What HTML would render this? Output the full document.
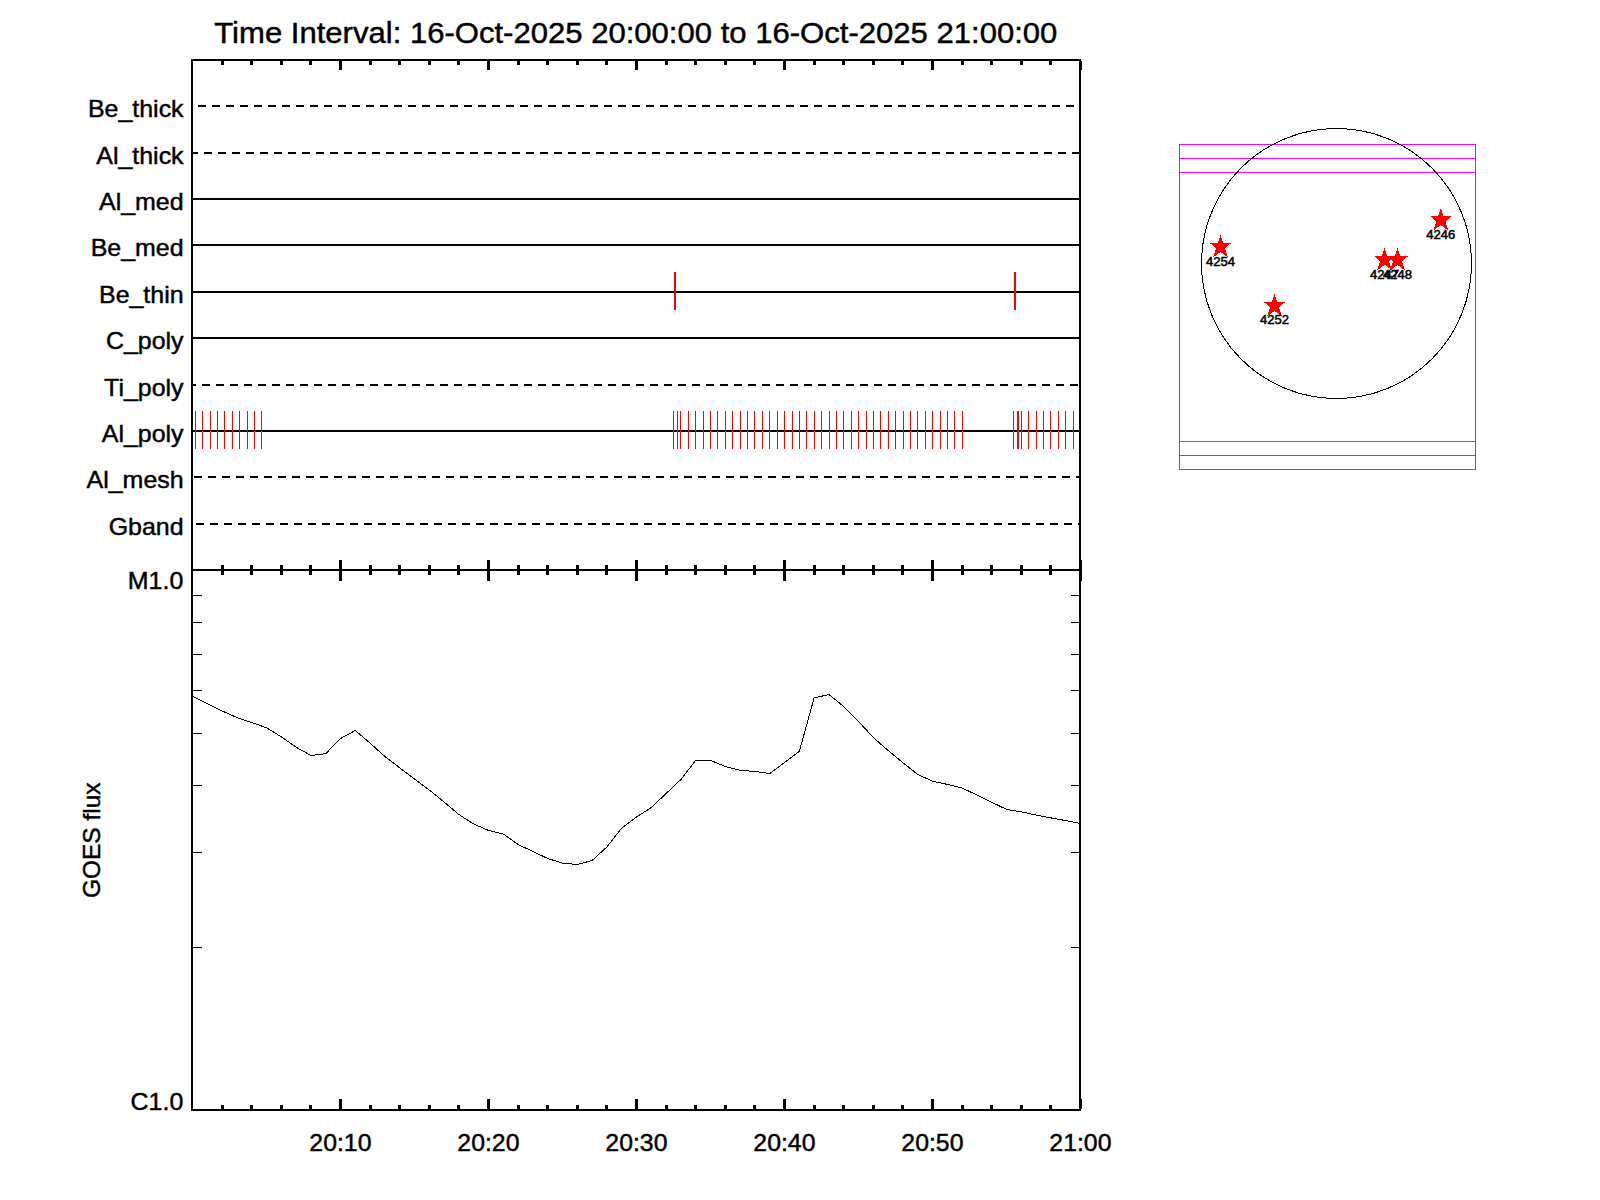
<!DOCTYPE html>
<html lang="en"><head><meta charset="utf-8"><title>Time Interval: 16-Oct-2025 20:00:00 to 16-Oct-2025 21:00:00</title>
<style>html,body{margin:0;padding:0;background:#fff;width:1600px;height:1200px;overflow:hidden}svg{display:block;position:absolute;left:0;top:0}text{font-family:"Liberation Sans",sans-serif;fill:#000}</style></head><body>
<svg width="1600" height="1200" viewBox="0 0 1600 1200">
<rect x="0" y="0" width="1600" height="1200" fill="#fff"/>
<g shape-rendering="crispEdges">
<rect x="198" y="105" width="8" height="2" fill="#000"/>
<rect x="212" y="105" width="8" height="2" fill="#000"/>
<rect x="226" y="105" width="8" height="2" fill="#000"/>
<rect x="240" y="105" width="8" height="2" fill="#000"/>
<rect x="254" y="105" width="8" height="2" fill="#000"/>
<rect x="268" y="105" width="8" height="2" fill="#000"/>
<rect x="282" y="105" width="8" height="2" fill="#000"/>
<rect x="296" y="105" width="8" height="2" fill="#000"/>
<rect x="310" y="105" width="8" height="2" fill="#000"/>
<rect x="324" y="105" width="8" height="2" fill="#000"/>
<rect x="338" y="105" width="8" height="2" fill="#000"/>
<rect x="352" y="105" width="8" height="2" fill="#000"/>
<rect x="366" y="105" width="8" height="2" fill="#000"/>
<rect x="380" y="105" width="8" height="2" fill="#000"/>
<rect x="394" y="105" width="8" height="2" fill="#000"/>
<rect x="408" y="105" width="8" height="2" fill="#000"/>
<rect x="422" y="105" width="8" height="2" fill="#000"/>
<rect x="436" y="105" width="8" height="2" fill="#000"/>
<rect x="450" y="105" width="8" height="2" fill="#000"/>
<rect x="464" y="105" width="8" height="2" fill="#000"/>
<rect x="478" y="105" width="8" height="2" fill="#000"/>
<rect x="492" y="105" width="8" height="2" fill="#000"/>
<rect x="506" y="105" width="8" height="2" fill="#000"/>
<rect x="520" y="105" width="8" height="2" fill="#000"/>
<rect x="534" y="105" width="8" height="2" fill="#000"/>
<rect x="548" y="105" width="8" height="2" fill="#000"/>
<rect x="562" y="105" width="8" height="2" fill="#000"/>
<rect x="576" y="105" width="8" height="2" fill="#000"/>
<rect x="590" y="105" width="8" height="2" fill="#000"/>
<rect x="604" y="105" width="8" height="2" fill="#000"/>
<rect x="618" y="105" width="8" height="2" fill="#000"/>
<rect x="632" y="105" width="8" height="2" fill="#000"/>
<rect x="646" y="105" width="8" height="2" fill="#000"/>
<rect x="660" y="105" width="8" height="2" fill="#000"/>
<rect x="674" y="105" width="8" height="2" fill="#000"/>
<rect x="688" y="105" width="8" height="2" fill="#000"/>
<rect x="702" y="105" width="8" height="2" fill="#000"/>
<rect x="716" y="105" width="8" height="2" fill="#000"/>
<rect x="730" y="105" width="8" height="2" fill="#000"/>
<rect x="744" y="105" width="8" height="2" fill="#000"/>
<rect x="758" y="105" width="8" height="2" fill="#000"/>
<rect x="772" y="105" width="8" height="2" fill="#000"/>
<rect x="786" y="105" width="8" height="2" fill="#000"/>
<rect x="800" y="105" width="8" height="2" fill="#000"/>
<rect x="814" y="105" width="8" height="2" fill="#000"/>
<rect x="828" y="105" width="8" height="2" fill="#000"/>
<rect x="842" y="105" width="8" height="2" fill="#000"/>
<rect x="856" y="105" width="8" height="2" fill="#000"/>
<rect x="870" y="105" width="8" height="2" fill="#000"/>
<rect x="884" y="105" width="8" height="2" fill="#000"/>
<rect x="898" y="105" width="8" height="2" fill="#000"/>
<rect x="912" y="105" width="8" height="2" fill="#000"/>
<rect x="926" y="105" width="8" height="2" fill="#000"/>
<rect x="940" y="105" width="8" height="2" fill="#000"/>
<rect x="954" y="105" width="8" height="2" fill="#000"/>
<rect x="968" y="105" width="8" height="2" fill="#000"/>
<rect x="982" y="105" width="8" height="2" fill="#000"/>
<rect x="996" y="105" width="8" height="2" fill="#000"/>
<rect x="1010" y="105" width="8" height="2" fill="#000"/>
<rect x="1024" y="105" width="8" height="2" fill="#000"/>
<rect x="1038" y="105" width="8" height="2" fill="#000"/>
<rect x="1052" y="105" width="8" height="2" fill="#000"/>
<rect x="1066" y="105" width="8" height="2" fill="#000"/>
<rect x="193" y="152" width="5" height="2" fill="#000"/>
<rect x="204" y="152" width="8" height="2" fill="#000"/>
<rect x="218" y="152" width="8" height="2" fill="#000"/>
<rect x="232" y="152" width="8" height="2" fill="#000"/>
<rect x="246" y="152" width="8" height="2" fill="#000"/>
<rect x="260" y="152" width="8" height="2" fill="#000"/>
<rect x="274" y="152" width="8" height="2" fill="#000"/>
<rect x="288" y="152" width="8" height="2" fill="#000"/>
<rect x="302" y="152" width="8" height="2" fill="#000"/>
<rect x="316" y="152" width="8" height="2" fill="#000"/>
<rect x="330" y="152" width="8" height="2" fill="#000"/>
<rect x="344" y="152" width="8" height="2" fill="#000"/>
<rect x="358" y="152" width="8" height="2" fill="#000"/>
<rect x="372" y="152" width="8" height="2" fill="#000"/>
<rect x="386" y="152" width="8" height="2" fill="#000"/>
<rect x="400" y="152" width="8" height="2" fill="#000"/>
<rect x="414" y="152" width="8" height="2" fill="#000"/>
<rect x="428" y="152" width="8" height="2" fill="#000"/>
<rect x="442" y="152" width="8" height="2" fill="#000"/>
<rect x="456" y="152" width="8" height="2" fill="#000"/>
<rect x="470" y="152" width="8" height="2" fill="#000"/>
<rect x="484" y="152" width="8" height="2" fill="#000"/>
<rect x="498" y="152" width="8" height="2" fill="#000"/>
<rect x="512" y="152" width="8" height="2" fill="#000"/>
<rect x="526" y="152" width="8" height="2" fill="#000"/>
<rect x="540" y="152" width="8" height="2" fill="#000"/>
<rect x="554" y="152" width="8" height="2" fill="#000"/>
<rect x="568" y="152" width="8" height="2" fill="#000"/>
<rect x="582" y="152" width="8" height="2" fill="#000"/>
<rect x="596" y="152" width="8" height="2" fill="#000"/>
<rect x="610" y="152" width="8" height="2" fill="#000"/>
<rect x="624" y="152" width="8" height="2" fill="#000"/>
<rect x="638" y="152" width="8" height="2" fill="#000"/>
<rect x="652" y="152" width="8" height="2" fill="#000"/>
<rect x="666" y="152" width="8" height="2" fill="#000"/>
<rect x="680" y="152" width="8" height="2" fill="#000"/>
<rect x="694" y="152" width="8" height="2" fill="#000"/>
<rect x="708" y="152" width="8" height="2" fill="#000"/>
<rect x="722" y="152" width="8" height="2" fill="#000"/>
<rect x="736" y="152" width="8" height="2" fill="#000"/>
<rect x="750" y="152" width="8" height="2" fill="#000"/>
<rect x="764" y="152" width="8" height="2" fill="#000"/>
<rect x="778" y="152" width="8" height="2" fill="#000"/>
<rect x="792" y="152" width="8" height="2" fill="#000"/>
<rect x="806" y="152" width="8" height="2" fill="#000"/>
<rect x="820" y="152" width="8" height="2" fill="#000"/>
<rect x="834" y="152" width="8" height="2" fill="#000"/>
<rect x="848" y="152" width="8" height="2" fill="#000"/>
<rect x="862" y="152" width="8" height="2" fill="#000"/>
<rect x="876" y="152" width="8" height="2" fill="#000"/>
<rect x="890" y="152" width="8" height="2" fill="#000"/>
<rect x="904" y="152" width="8" height="2" fill="#000"/>
<rect x="918" y="152" width="8" height="2" fill="#000"/>
<rect x="932" y="152" width="8" height="2" fill="#000"/>
<rect x="946" y="152" width="8" height="2" fill="#000"/>
<rect x="960" y="152" width="8" height="2" fill="#000"/>
<rect x="974" y="152" width="8" height="2" fill="#000"/>
<rect x="988" y="152" width="8" height="2" fill="#000"/>
<rect x="1002" y="152" width="8" height="2" fill="#000"/>
<rect x="1016" y="152" width="8" height="2" fill="#000"/>
<rect x="1030" y="152" width="8" height="2" fill="#000"/>
<rect x="1044" y="152" width="8" height="2" fill="#000"/>
<rect x="1058" y="152" width="8" height="2" fill="#000"/>
<rect x="1072" y="152" width="7" height="2" fill="#000"/>
<rect x="193" y="198" width="886" height="2" fill="#000"/>
<rect x="193" y="244" width="886" height="2" fill="#000"/>
<rect x="193" y="291" width="886" height="2" fill="#000"/>
<rect x="193" y="337" width="886" height="2" fill="#000"/>
<rect x="193" y="384" width="3" height="2" fill="#000"/>
<rect x="202" y="384" width="8" height="2" fill="#000"/>
<rect x="216" y="384" width="8" height="2" fill="#000"/>
<rect x="230" y="384" width="8" height="2" fill="#000"/>
<rect x="244" y="384" width="8" height="2" fill="#000"/>
<rect x="258" y="384" width="8" height="2" fill="#000"/>
<rect x="272" y="384" width="8" height="2" fill="#000"/>
<rect x="286" y="384" width="8" height="2" fill="#000"/>
<rect x="300" y="384" width="8" height="2" fill="#000"/>
<rect x="314" y="384" width="8" height="2" fill="#000"/>
<rect x="328" y="384" width="8" height="2" fill="#000"/>
<rect x="342" y="384" width="8" height="2" fill="#000"/>
<rect x="356" y="384" width="8" height="2" fill="#000"/>
<rect x="370" y="384" width="8" height="2" fill="#000"/>
<rect x="384" y="384" width="8" height="2" fill="#000"/>
<rect x="398" y="384" width="8" height="2" fill="#000"/>
<rect x="412" y="384" width="8" height="2" fill="#000"/>
<rect x="426" y="384" width="8" height="2" fill="#000"/>
<rect x="440" y="384" width="8" height="2" fill="#000"/>
<rect x="454" y="384" width="8" height="2" fill="#000"/>
<rect x="468" y="384" width="8" height="2" fill="#000"/>
<rect x="482" y="384" width="8" height="2" fill="#000"/>
<rect x="496" y="384" width="8" height="2" fill="#000"/>
<rect x="510" y="384" width="8" height="2" fill="#000"/>
<rect x="524" y="384" width="8" height="2" fill="#000"/>
<rect x="538" y="384" width="8" height="2" fill="#000"/>
<rect x="552" y="384" width="8" height="2" fill="#000"/>
<rect x="566" y="384" width="8" height="2" fill="#000"/>
<rect x="580" y="384" width="8" height="2" fill="#000"/>
<rect x="594" y="384" width="8" height="2" fill="#000"/>
<rect x="608" y="384" width="8" height="2" fill="#000"/>
<rect x="622" y="384" width="8" height="2" fill="#000"/>
<rect x="636" y="384" width="8" height="2" fill="#000"/>
<rect x="650" y="384" width="8" height="2" fill="#000"/>
<rect x="664" y="384" width="8" height="2" fill="#000"/>
<rect x="678" y="384" width="8" height="2" fill="#000"/>
<rect x="692" y="384" width="8" height="2" fill="#000"/>
<rect x="706" y="384" width="8" height="2" fill="#000"/>
<rect x="720" y="384" width="8" height="2" fill="#000"/>
<rect x="734" y="384" width="8" height="2" fill="#000"/>
<rect x="748" y="384" width="8" height="2" fill="#000"/>
<rect x="762" y="384" width="8" height="2" fill="#000"/>
<rect x="776" y="384" width="8" height="2" fill="#000"/>
<rect x="790" y="384" width="8" height="2" fill="#000"/>
<rect x="804" y="384" width="8" height="2" fill="#000"/>
<rect x="818" y="384" width="8" height="2" fill="#000"/>
<rect x="832" y="384" width="8" height="2" fill="#000"/>
<rect x="846" y="384" width="8" height="2" fill="#000"/>
<rect x="860" y="384" width="8" height="2" fill="#000"/>
<rect x="874" y="384" width="8" height="2" fill="#000"/>
<rect x="888" y="384" width="8" height="2" fill="#000"/>
<rect x="902" y="384" width="8" height="2" fill="#000"/>
<rect x="916" y="384" width="8" height="2" fill="#000"/>
<rect x="930" y="384" width="8" height="2" fill="#000"/>
<rect x="944" y="384" width="8" height="2" fill="#000"/>
<rect x="958" y="384" width="8" height="2" fill="#000"/>
<rect x="972" y="384" width="8" height="2" fill="#000"/>
<rect x="986" y="384" width="8" height="2" fill="#000"/>
<rect x="1000" y="384" width="8" height="2" fill="#000"/>
<rect x="1014" y="384" width="8" height="2" fill="#000"/>
<rect x="1028" y="384" width="8" height="2" fill="#000"/>
<rect x="1042" y="384" width="8" height="2" fill="#000"/>
<rect x="1056" y="384" width="8" height="2" fill="#000"/>
<rect x="1070" y="384" width="8" height="2" fill="#000"/>
<rect x="193" y="430" width="886" height="2" fill="#000"/>
<rect x="194" y="476" width="8" height="2" fill="#000"/>
<rect x="208" y="476" width="8" height="2" fill="#000"/>
<rect x="222" y="476" width="8" height="2" fill="#000"/>
<rect x="236" y="476" width="8" height="2" fill="#000"/>
<rect x="250" y="476" width="8" height="2" fill="#000"/>
<rect x="264" y="476" width="8" height="2" fill="#000"/>
<rect x="278" y="476" width="8" height="2" fill="#000"/>
<rect x="292" y="476" width="8" height="2" fill="#000"/>
<rect x="306" y="476" width="8" height="2" fill="#000"/>
<rect x="320" y="476" width="8" height="2" fill="#000"/>
<rect x="334" y="476" width="8" height="2" fill="#000"/>
<rect x="348" y="476" width="8" height="2" fill="#000"/>
<rect x="362" y="476" width="8" height="2" fill="#000"/>
<rect x="376" y="476" width="8" height="2" fill="#000"/>
<rect x="390" y="476" width="8" height="2" fill="#000"/>
<rect x="404" y="476" width="8" height="2" fill="#000"/>
<rect x="418" y="476" width="8" height="2" fill="#000"/>
<rect x="432" y="476" width="8" height="2" fill="#000"/>
<rect x="446" y="476" width="8" height="2" fill="#000"/>
<rect x="460" y="476" width="8" height="2" fill="#000"/>
<rect x="474" y="476" width="8" height="2" fill="#000"/>
<rect x="488" y="476" width="8" height="2" fill="#000"/>
<rect x="502" y="476" width="8" height="2" fill="#000"/>
<rect x="516" y="476" width="8" height="2" fill="#000"/>
<rect x="530" y="476" width="8" height="2" fill="#000"/>
<rect x="544" y="476" width="8" height="2" fill="#000"/>
<rect x="558" y="476" width="8" height="2" fill="#000"/>
<rect x="572" y="476" width="8" height="2" fill="#000"/>
<rect x="586" y="476" width="8" height="2" fill="#000"/>
<rect x="600" y="476" width="8" height="2" fill="#000"/>
<rect x="614" y="476" width="8" height="2" fill="#000"/>
<rect x="628" y="476" width="8" height="2" fill="#000"/>
<rect x="642" y="476" width="8" height="2" fill="#000"/>
<rect x="656" y="476" width="8" height="2" fill="#000"/>
<rect x="670" y="476" width="8" height="2" fill="#000"/>
<rect x="684" y="476" width="8" height="2" fill="#000"/>
<rect x="698" y="476" width="8" height="2" fill="#000"/>
<rect x="712" y="476" width="8" height="2" fill="#000"/>
<rect x="726" y="476" width="8" height="2" fill="#000"/>
<rect x="740" y="476" width="8" height="2" fill="#000"/>
<rect x="754" y="476" width="8" height="2" fill="#000"/>
<rect x="768" y="476" width="8" height="2" fill="#000"/>
<rect x="782" y="476" width="8" height="2" fill="#000"/>
<rect x="796" y="476" width="8" height="2" fill="#000"/>
<rect x="810" y="476" width="8" height="2" fill="#000"/>
<rect x="824" y="476" width="8" height="2" fill="#000"/>
<rect x="838" y="476" width="8" height="2" fill="#000"/>
<rect x="852" y="476" width="8" height="2" fill="#000"/>
<rect x="866" y="476" width="8" height="2" fill="#000"/>
<rect x="880" y="476" width="8" height="2" fill="#000"/>
<rect x="894" y="476" width="8" height="2" fill="#000"/>
<rect x="908" y="476" width="8" height="2" fill="#000"/>
<rect x="922" y="476" width="8" height="2" fill="#000"/>
<rect x="936" y="476" width="8" height="2" fill="#000"/>
<rect x="950" y="476" width="8" height="2" fill="#000"/>
<rect x="964" y="476" width="8" height="2" fill="#000"/>
<rect x="978" y="476" width="8" height="2" fill="#000"/>
<rect x="992" y="476" width="8" height="2" fill="#000"/>
<rect x="1006" y="476" width="8" height="2" fill="#000"/>
<rect x="1020" y="476" width="8" height="2" fill="#000"/>
<rect x="1034" y="476" width="8" height="2" fill="#000"/>
<rect x="1048" y="476" width="8" height="2" fill="#000"/>
<rect x="1062" y="476" width="8" height="2" fill="#000"/>
<rect x="1076" y="476" width="3" height="2" fill="#000"/>
<rect x="196" y="523" width="8" height="2" fill="#000"/>
<rect x="210" y="523" width="8" height="2" fill="#000"/>
<rect x="224" y="523" width="8" height="2" fill="#000"/>
<rect x="238" y="523" width="8" height="2" fill="#000"/>
<rect x="252" y="523" width="8" height="2" fill="#000"/>
<rect x="266" y="523" width="8" height="2" fill="#000"/>
<rect x="280" y="523" width="8" height="2" fill="#000"/>
<rect x="294" y="523" width="8" height="2" fill="#000"/>
<rect x="308" y="523" width="8" height="2" fill="#000"/>
<rect x="322" y="523" width="8" height="2" fill="#000"/>
<rect x="336" y="523" width="8" height="2" fill="#000"/>
<rect x="350" y="523" width="8" height="2" fill="#000"/>
<rect x="364" y="523" width="8" height="2" fill="#000"/>
<rect x="378" y="523" width="8" height="2" fill="#000"/>
<rect x="392" y="523" width="8" height="2" fill="#000"/>
<rect x="406" y="523" width="8" height="2" fill="#000"/>
<rect x="420" y="523" width="8" height="2" fill="#000"/>
<rect x="434" y="523" width="8" height="2" fill="#000"/>
<rect x="448" y="523" width="8" height="2" fill="#000"/>
<rect x="462" y="523" width="8" height="2" fill="#000"/>
<rect x="476" y="523" width="8" height="2" fill="#000"/>
<rect x="490" y="523" width="8" height="2" fill="#000"/>
<rect x="504" y="523" width="8" height="2" fill="#000"/>
<rect x="518" y="523" width="8" height="2" fill="#000"/>
<rect x="532" y="523" width="8" height="2" fill="#000"/>
<rect x="546" y="523" width="8" height="2" fill="#000"/>
<rect x="560" y="523" width="8" height="2" fill="#000"/>
<rect x="574" y="523" width="8" height="2" fill="#000"/>
<rect x="588" y="523" width="8" height="2" fill="#000"/>
<rect x="602" y="523" width="8" height="2" fill="#000"/>
<rect x="616" y="523" width="8" height="2" fill="#000"/>
<rect x="630" y="523" width="8" height="2" fill="#000"/>
<rect x="644" y="523" width="8" height="2" fill="#000"/>
<rect x="658" y="523" width="8" height="2" fill="#000"/>
<rect x="672" y="523" width="8" height="2" fill="#000"/>
<rect x="686" y="523" width="8" height="2" fill="#000"/>
<rect x="700" y="523" width="8" height="2" fill="#000"/>
<rect x="714" y="523" width="8" height="2" fill="#000"/>
<rect x="728" y="523" width="8" height="2" fill="#000"/>
<rect x="742" y="523" width="8" height="2" fill="#000"/>
<rect x="756" y="523" width="8" height="2" fill="#000"/>
<rect x="770" y="523" width="8" height="2" fill="#000"/>
<rect x="784" y="523" width="8" height="2" fill="#000"/>
<rect x="798" y="523" width="8" height="2" fill="#000"/>
<rect x="812" y="523" width="8" height="2" fill="#000"/>
<rect x="826" y="523" width="8" height="2" fill="#000"/>
<rect x="840" y="523" width="8" height="2" fill="#000"/>
<rect x="854" y="523" width="8" height="2" fill="#000"/>
<rect x="868" y="523" width="8" height="2" fill="#000"/>
<rect x="882" y="523" width="8" height="2" fill="#000"/>
<rect x="896" y="523" width="8" height="2" fill="#000"/>
<rect x="910" y="523" width="8" height="2" fill="#000"/>
<rect x="924" y="523" width="8" height="2" fill="#000"/>
<rect x="938" y="523" width="8" height="2" fill="#000"/>
<rect x="952" y="523" width="8" height="2" fill="#000"/>
<rect x="966" y="523" width="8" height="2" fill="#000"/>
<rect x="980" y="523" width="8" height="2" fill="#000"/>
<rect x="994" y="523" width="8" height="2" fill="#000"/>
<rect x="1008" y="523" width="8" height="2" fill="#000"/>
<rect x="1022" y="523" width="8" height="2" fill="#000"/>
<rect x="1036" y="523" width="8" height="2" fill="#000"/>
<rect x="1050" y="523" width="8" height="2" fill="#000"/>
<rect x="1064" y="523" width="8" height="2" fill="#000"/>
<rect x="1078" y="523" width="1" height="2" fill="#000"/>
<rect x="195" y="411" width="1" height="38" fill="#ff0000"/>
<rect x="202" y="411" width="1" height="38" fill="#ff0000"/>
<rect x="210" y="411" width="1" height="38" fill="#ff0000"/>
<rect x="217" y="411" width="1" height="38" fill="#ff0000"/>
<rect x="224" y="411" width="1" height="38" fill="#ff0000"/>
<rect x="232" y="411" width="1" height="38" fill="#ff0000"/>
<rect x="239" y="411" width="1" height="38" fill="#ff0000"/>
<rect x="247" y="411" width="1" height="38" fill="#ff0000"/>
<rect x="254" y="411" width="1" height="38" fill="#ff0000"/>
<rect x="261" y="411" width="1" height="38" fill="#ff0000"/>
<rect x="673" y="411" width="1" height="38" fill="#ff0000"/>
<rect x="677" y="411" width="1" height="38" fill="#ff0000"/>
<rect x="680" y="411" width="1" height="38" fill="#ff0000"/>
<rect x="688" y="411" width="1" height="38" fill="#ff0000"/>
<rect x="695" y="411" width="1" height="38" fill="#ff0000"/>
<rect x="703" y="411" width="1" height="38" fill="#ff0000"/>
<rect x="710" y="411" width="1" height="38" fill="#ff0000"/>
<rect x="717" y="411" width="1" height="38" fill="#ff0000"/>
<rect x="725" y="411" width="1" height="38" fill="#ff0000"/>
<rect x="732" y="411" width="1" height="38" fill="#ff0000"/>
<rect x="740" y="411" width="1" height="38" fill="#ff0000"/>
<rect x="747" y="411" width="1" height="38" fill="#ff0000"/>
<rect x="754" y="411" width="1" height="38" fill="#ff0000"/>
<rect x="762" y="411" width="1" height="38" fill="#ff0000"/>
<rect x="769" y="411" width="1" height="38" fill="#ff0000"/>
<rect x="777" y="411" width="1" height="38" fill="#ff0000"/>
<rect x="784" y="411" width="1" height="38" fill="#ff0000"/>
<rect x="792" y="411" width="1" height="38" fill="#ff0000"/>
<rect x="799" y="411" width="1" height="38" fill="#ff0000"/>
<rect x="806" y="411" width="1" height="38" fill="#ff0000"/>
<rect x="814" y="411" width="1" height="38" fill="#ff0000"/>
<rect x="821" y="411" width="1" height="38" fill="#ff0000"/>
<rect x="829" y="411" width="1" height="38" fill="#ff0000"/>
<rect x="836" y="411" width="1" height="38" fill="#ff0000"/>
<rect x="843" y="411" width="1" height="38" fill="#ff0000"/>
<rect x="851" y="411" width="1" height="38" fill="#ff0000"/>
<rect x="858" y="411" width="1" height="38" fill="#ff0000"/>
<rect x="866" y="411" width="1" height="38" fill="#ff0000"/>
<rect x="873" y="411" width="1" height="38" fill="#ff0000"/>
<rect x="880" y="411" width="1" height="38" fill="#ff0000"/>
<rect x="888" y="411" width="1" height="38" fill="#ff0000"/>
<rect x="895" y="411" width="1" height="38" fill="#ff0000"/>
<rect x="903" y="411" width="1" height="38" fill="#ff0000"/>
<rect x="910" y="411" width="1" height="38" fill="#ff0000"/>
<rect x="917" y="411" width="1" height="38" fill="#ff0000"/>
<rect x="925" y="411" width="1" height="38" fill="#ff0000"/>
<rect x="932" y="411" width="1" height="38" fill="#ff0000"/>
<rect x="940" y="411" width="1" height="38" fill="#ff0000"/>
<rect x="947" y="411" width="1" height="38" fill="#ff0000"/>
<rect x="954" y="411" width="1" height="38" fill="#ff0000"/>
<rect x="962" y="411" width="1" height="38" fill="#ff0000"/>
<rect x="1013" y="411" width="1" height="38" fill="#ff0000"/>
<rect x="1017" y="411" width="1" height="38" fill="#ff0000"/>
<rect x="1018" y="411" width="1" height="38" fill="#ff0000"/>
<rect x="1021" y="411" width="1" height="38" fill="#ff0000"/>
<rect x="1028" y="411" width="1" height="38" fill="#ff0000"/>
<rect x="1036" y="411" width="1" height="38" fill="#ff0000"/>
<rect x="1043" y="411" width="1" height="38" fill="#ff0000"/>
<rect x="1050" y="411" width="1" height="38" fill="#ff0000"/>
<rect x="1058" y="411" width="1" height="38" fill="#ff0000"/>
<rect x="1065" y="411" width="1" height="38" fill="#ff0000"/>
<rect x="1073" y="411" width="1" height="38" fill="#ff0000"/>
<rect x="674" y="272" width="2" height="38" fill="#ff0000"/>
<rect x="1014" y="272" width="2" height="38" fill="#ff0000"/>
<rect x="191" y="59" width="890" height="2" fill="#000"/>
<rect x="191" y="569" width="890" height="2" fill="#000"/>
<rect x="191" y="1109" width="890" height="2" fill="#000"/>
<rect x="191" y="59" width="2" height="1052" fill="#000"/>
<rect x="1079" y="59" width="2" height="1052" fill="#000"/>
<rect x="221" y="61" width="3" height="4" fill="#000"/>
<rect x="221" y="565" width="3" height="10" fill="#000"/>
<rect x="221" y="1105" width="3" height="4" fill="#000"/>
<rect x="250" y="61" width="3" height="4" fill="#000"/>
<rect x="250" y="565" width="3" height="10" fill="#000"/>
<rect x="250" y="1105" width="3" height="4" fill="#000"/>
<rect x="280" y="61" width="3" height="4" fill="#000"/>
<rect x="280" y="565" width="3" height="10" fill="#000"/>
<rect x="280" y="1105" width="3" height="4" fill="#000"/>
<rect x="309" y="61" width="3" height="4" fill="#000"/>
<rect x="309" y="565" width="3" height="10" fill="#000"/>
<rect x="309" y="1105" width="3" height="4" fill="#000"/>
<rect x="339" y="61" width="3" height="9" fill="#000"/>
<rect x="339" y="560" width="3" height="21" fill="#000"/>
<rect x="339" y="1099" width="3" height="10" fill="#000"/>
<rect x="369" y="61" width="3" height="4" fill="#000"/>
<rect x="369" y="565" width="3" height="10" fill="#000"/>
<rect x="369" y="1105" width="3" height="4" fill="#000"/>
<rect x="398" y="61" width="3" height="4" fill="#000"/>
<rect x="398" y="565" width="3" height="10" fill="#000"/>
<rect x="398" y="1105" width="3" height="4" fill="#000"/>
<rect x="428" y="61" width="3" height="4" fill="#000"/>
<rect x="428" y="565" width="3" height="10" fill="#000"/>
<rect x="428" y="1105" width="3" height="4" fill="#000"/>
<rect x="457" y="61" width="3" height="4" fill="#000"/>
<rect x="457" y="565" width="3" height="10" fill="#000"/>
<rect x="457" y="1105" width="3" height="4" fill="#000"/>
<rect x="487" y="61" width="3" height="9" fill="#000"/>
<rect x="487" y="560" width="3" height="21" fill="#000"/>
<rect x="487" y="1099" width="3" height="10" fill="#000"/>
<rect x="517" y="61" width="3" height="4" fill="#000"/>
<rect x="517" y="565" width="3" height="10" fill="#000"/>
<rect x="517" y="1105" width="3" height="4" fill="#000"/>
<rect x="546" y="61" width="3" height="4" fill="#000"/>
<rect x="546" y="565" width="3" height="10" fill="#000"/>
<rect x="546" y="1105" width="3" height="4" fill="#000"/>
<rect x="576" y="61" width="3" height="4" fill="#000"/>
<rect x="576" y="565" width="3" height="10" fill="#000"/>
<rect x="576" y="1105" width="3" height="4" fill="#000"/>
<rect x="605" y="61" width="3" height="4" fill="#000"/>
<rect x="605" y="565" width="3" height="10" fill="#000"/>
<rect x="605" y="1105" width="3" height="4" fill="#000"/>
<rect x="635" y="61" width="3" height="9" fill="#000"/>
<rect x="635" y="560" width="3" height="21" fill="#000"/>
<rect x="635" y="1099" width="3" height="10" fill="#000"/>
<rect x="665" y="61" width="3" height="4" fill="#000"/>
<rect x="665" y="565" width="3" height="10" fill="#000"/>
<rect x="665" y="1105" width="3" height="4" fill="#000"/>
<rect x="694" y="61" width="3" height="4" fill="#000"/>
<rect x="694" y="565" width="3" height="10" fill="#000"/>
<rect x="694" y="1105" width="3" height="4" fill="#000"/>
<rect x="724" y="61" width="3" height="4" fill="#000"/>
<rect x="724" y="565" width="3" height="10" fill="#000"/>
<rect x="724" y="1105" width="3" height="4" fill="#000"/>
<rect x="753" y="61" width="3" height="4" fill="#000"/>
<rect x="753" y="565" width="3" height="10" fill="#000"/>
<rect x="753" y="1105" width="3" height="4" fill="#000"/>
<rect x="783" y="61" width="3" height="9" fill="#000"/>
<rect x="783" y="560" width="3" height="21" fill="#000"/>
<rect x="783" y="1099" width="3" height="10" fill="#000"/>
<rect x="813" y="61" width="3" height="4" fill="#000"/>
<rect x="813" y="565" width="3" height="10" fill="#000"/>
<rect x="813" y="1105" width="3" height="4" fill="#000"/>
<rect x="842" y="61" width="3" height="4" fill="#000"/>
<rect x="842" y="565" width="3" height="10" fill="#000"/>
<rect x="842" y="1105" width="3" height="4" fill="#000"/>
<rect x="872" y="61" width="3" height="4" fill="#000"/>
<rect x="872" y="565" width="3" height="10" fill="#000"/>
<rect x="872" y="1105" width="3" height="4" fill="#000"/>
<rect x="901" y="61" width="3" height="4" fill="#000"/>
<rect x="901" y="565" width="3" height="10" fill="#000"/>
<rect x="901" y="1105" width="3" height="4" fill="#000"/>
<rect x="931" y="61" width="3" height="9" fill="#000"/>
<rect x="931" y="560" width="3" height="21" fill="#000"/>
<rect x="931" y="1099" width="3" height="10" fill="#000"/>
<rect x="961" y="61" width="3" height="4" fill="#000"/>
<rect x="961" y="565" width="3" height="10" fill="#000"/>
<rect x="961" y="1105" width="3" height="4" fill="#000"/>
<rect x="990" y="61" width="3" height="4" fill="#000"/>
<rect x="990" y="565" width="3" height="10" fill="#000"/>
<rect x="990" y="1105" width="3" height="4" fill="#000"/>
<rect x="1020" y="61" width="3" height="4" fill="#000"/>
<rect x="1020" y="565" width="3" height="10" fill="#000"/>
<rect x="1020" y="1105" width="3" height="4" fill="#000"/>
<rect x="1049" y="61" width="3" height="4" fill="#000"/>
<rect x="1049" y="565" width="3" height="10" fill="#000"/>
<rect x="1049" y="1105" width="3" height="4" fill="#000"/>
<rect x="1079" y="61" width="3" height="9" fill="#000"/>
<rect x="1079" y="560" width="3" height="21" fill="#000"/>
<rect x="1079" y="1099" width="3" height="10" fill="#000"/>
<rect x="193" y="947" width="9" height="1" fill="#000"/>
<rect x="1071" y="947" width="8" height="1" fill="#000"/>
<rect x="193" y="852" width="9" height="1" fill="#000"/>
<rect x="1071" y="852" width="8" height="1" fill="#000"/>
<rect x="193" y="785" width="9" height="1" fill="#000"/>
<rect x="1071" y="785" width="8" height="1" fill="#000"/>
<rect x="193" y="733" width="9" height="1" fill="#000"/>
<rect x="1071" y="733" width="8" height="1" fill="#000"/>
<rect x="193" y="690" width="9" height="1" fill="#000"/>
<rect x="1071" y="690" width="8" height="1" fill="#000"/>
<rect x="193" y="654" width="9" height="1" fill="#000"/>
<rect x="1071" y="654" width="8" height="1" fill="#000"/>
<rect x="193" y="622" width="9" height="1" fill="#000"/>
<rect x="1071" y="622" width="8" height="1" fill="#000"/>
<rect x="193" y="595" width="9" height="1" fill="#000"/>
<rect x="1071" y="595" width="8" height="1" fill="#000"/>
</g>
<polyline points="192.5,696.2 207.3,703.7 222.1,710.9 236.9,717.5 251.7,722.5 266.5,727.8 281.3,736.8 296.1,747.2 310.9,755.5 325.7,753.7 340.5,738.5 355.3,730.5 370.1,743.2 384.9,756.5 399.7,767.8 414.5,779.0 429.3,790.0 444.1,802.0 458.9,814.5 473.7,824.0 488.5,830.4 503.3,834.0 518.1,844.5 532.9,851.5 547.7,858.5 562.5,863.2 577.3,864.5 592.1,860.5 606.9,847.0 621.7,828.0 636.5,817.0 651.3,807.5 666.1,793.5 680.9,779.5 695.7,760.3 710.5,760.3 725.3,766.5 740.1,770.3 754.9,771.5 769.7,773.5 784.5,762.5 799.3,751.5 814.1,698.0 828.9,694.5 843.7,706.5 858.5,721.5 873.3,737.5 888.1,750.5 902.9,762.7 917.7,774.4 932.5,781.2 947.3,784.4 962.1,788.0 976.9,795.0 991.7,802.2 1006.5,809.4 1021.3,811.9 1036.1,815.0 1050.9,817.9 1065.7,820.6 1080.5,823.4" fill="none" stroke="#000" stroke-width="1" shape-rendering="crispEdges"/>
<text transform="translate(214.3,43) scale(1.0533216783216783,1)" font-size="29.5" text-anchor="start" stroke="#000" stroke-width="0.45">Time Interval: 16-Oct-2025 20:00:00 to 16-Oct-2025 21:00:00</text>
<text transform="translate(183.6,116.75) scale(1.04,1)" font-size="24" text-anchor="end" stroke="#000" stroke-width="0.45">Be_thick</text>
<text transform="translate(183.6,163.75) scale(1.04,1)" font-size="24" text-anchor="end" stroke="#000" stroke-width="0.45">Al_thick</text>
<text transform="translate(183.6,209.75) scale(1.04,1)" font-size="24" text-anchor="end" stroke="#000" stroke-width="0.45">Al_med</text>
<text transform="translate(183.6,255.75) scale(1.04,1)" font-size="24" text-anchor="end" stroke="#000" stroke-width="0.45">Be_med</text>
<text transform="translate(183.6,302.75) scale(1.04,1)" font-size="24" text-anchor="end" stroke="#000" stroke-width="0.45">Be_thin</text>
<text transform="translate(183.6,348.75) scale(1.04,1)" font-size="24" text-anchor="end" stroke="#000" stroke-width="0.45">C_poly</text>
<text transform="translate(183.6,395.75) scale(1.04,1)" font-size="24" text-anchor="end" stroke="#000" stroke-width="0.45">Ti_poly</text>
<text transform="translate(183.6,441.75) scale(1.04,1)" font-size="24" text-anchor="end" stroke="#000" stroke-width="0.45">Al_poly</text>
<text transform="translate(183.6,487.75) scale(1.04,1)" font-size="24" text-anchor="end" stroke="#000" stroke-width="0.45">Al_mesh</text>
<text transform="translate(183.6,534.75) scale(1.04,1)" font-size="24" text-anchor="end" stroke="#000" stroke-width="0.45">Gband</text>
<text transform="translate(183.3,589) scale(1.04,1)" font-size="24" text-anchor="end" stroke="#000" stroke-width="0.45">M1.0</text>
<text transform="translate(183.3,1109.5) scale(1.04,1)" font-size="24" text-anchor="end" stroke="#000" stroke-width="0.45">C1.0</text>
<text transform="translate(340.4,1151) scale(1.035,1)" font-size="24" text-anchor="middle" stroke="#000" stroke-width="0.45">20:10</text>
<text transform="translate(488.4,1151) scale(1.035,1)" font-size="24" text-anchor="middle" stroke="#000" stroke-width="0.45">20:20</text>
<text transform="translate(636.4,1151) scale(1.035,1)" font-size="24" text-anchor="middle" stroke="#000" stroke-width="0.45">20:30</text>
<text transform="translate(784.4,1151) scale(1.035,1)" font-size="24" text-anchor="middle" stroke="#000" stroke-width="0.45">20:40</text>
<text transform="translate(932.4,1151) scale(1.035,1)" font-size="24" text-anchor="middle" stroke="#000" stroke-width="0.45">20:50</text>
<text transform="translate(1080.4,1151) scale(1.035,1)" font-size="24" text-anchor="middle" stroke="#000" stroke-width="0.45">21:00</text>
<text transform="translate(100.4,840.3) rotate(-90) scale(1.02,1)" font-size="24" text-anchor="middle" stroke="#000" stroke-width="0.45">GOES flux</text>
<g shape-rendering="crispEdges" fill="none" stroke="#ff00ff" stroke-width="1">
<rect x="1179.5" y="144.5" width="296" height="297"/>
<rect x="1179.5" y="158.5" width="296" height="297"/>
<rect x="1179.5" y="172.5" width="296" height="297"/>
</g>
<circle cx="1336.5" cy="263.5" r="135" fill="none" stroke="#000" stroke-width="1" shape-rendering="crispEdges"/>
<polygon points="1440.80,208.20 1443.60,216.40 1451.20,216.40 1445.30,221.80 1448.40,230.70 1440.80,225.00 1433.20,230.70 1436.30,221.80 1430.40,216.40 1438.00,216.40" fill="#ff0000" shape-rendering="crispEdges"/>
<polygon points="1384.60,248.00 1387.40,256.20 1395.00,256.20 1389.10,261.60 1392.20,270.50 1384.60,264.80 1377.00,270.50 1380.10,261.60 1374.20,256.20 1381.80,256.20" fill="#ff0000" shape-rendering="crispEdges"/>
<polygon points="1397.50,248.00 1400.30,256.20 1407.90,256.20 1402.00,261.60 1405.10,270.50 1397.50,264.80 1389.90,270.50 1393.00,261.60 1387.10,256.20 1394.70,256.20" fill="#ff0000" shape-rendering="crispEdges"/>
<polygon points="1274.50,294.00 1277.30,302.20 1284.90,302.20 1279.00,307.60 1282.10,316.50 1274.50,310.80 1266.90,316.50 1270.00,307.60 1264.10,302.20 1271.70,302.20" fill="#ff0000" shape-rendering="crispEdges"/>
<polygon points="1220.50,235.00 1223.30,243.20 1230.90,243.20 1225.00,248.60 1228.10,257.50 1220.50,251.80 1212.90,257.50 1216.00,248.60 1210.10,243.20 1217.70,243.20" fill="#ff0000" shape-rendering="crispEdges"/>
<text transform="translate(1440.8,238.6) scale(1.0431654676258992,1)" font-size="12.5" text-anchor="middle" stroke="#000" stroke-width="0.5">4246</text>
<text transform="translate(1384.6,279) scale(1.0431654676258992,1)" font-size="12.5" text-anchor="middle" stroke="#000" stroke-width="0.5">4247</text>
<text transform="translate(1397.5,279) scale(1.0431654676258992,1)" font-size="12.5" text-anchor="middle" stroke="#000" stroke-width="0.5">4248</text>
<text transform="translate(1274.5,324) scale(1.0431654676258992,1)" font-size="12.5" text-anchor="middle" stroke="#000" stroke-width="0.5">4252</text>
<text transform="translate(1220.5,266) scale(1.0431654676258992,1)" font-size="12.5" text-anchor="middle" stroke="#000" stroke-width="0.5">4254</text>
</svg></body></html>
